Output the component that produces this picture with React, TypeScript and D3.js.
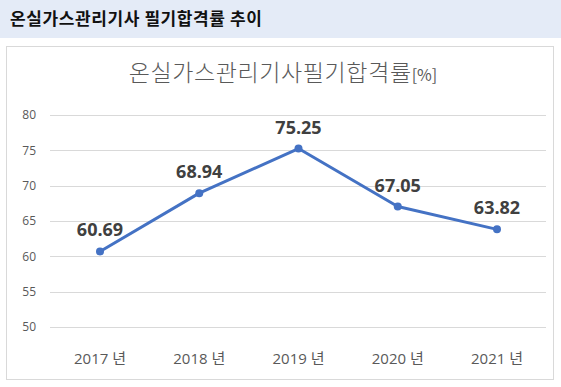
import { useEffect, useRef } from 'react';
import { select, scaleLinear, scalePoint, line } from 'd3';

const years = ['2017 년', '2018 년', '2019 년', '2020 년', '2021 년'];
const passRates = [60.69, 68.94, 75.25, 67.05, 63.82];
const yTicks = [50, 55, 60, 65, 70, 75, 80];

const FONT = '"Noto Sans CJK KR", "Noto Sans", sans-serif';
const LATIN = '"Open Sans", "Noto Sans CJK KR", sans-serif';

export default function App() {
  const svgRef = useRef<SVGSVGElement>(null);

  useEffect(() => {
    if (!svgRef.current) return;
    select(svgRef.current).selectAll('*').remove();

    const width = 561;
    const height = 387;
    const svg = select(svgRef.current).attr('width', width).attr('height', height);

    // Header band
    svg.append('rect').attr('x', 0).attr('y', 0).attr('width', width).attr('height', 38).attr('fill', '#e4ebf7');
    svg.append('text')
      .attr('x', 10).attr('y', 25)
      .attr('font-family', FONT).attr('font-size', 17).attr('font-weight', 700)
      .attr('letter-spacing', 0.6)
      .attr('fill', '#111')
      .text('온실가스관리기사 필기합격률 추이');

    // Chart box
    svg.append('rect')
      .attr('x', 6.5).attr('y', 46.5).attr('width', 547).attr('height', 333)
      .attr('fill', '#fff').attr('stroke', '#d9d9d9').attr('stroke-width', 1);

    // Chart title
    const title = svg.append('text')
      .attr('x', 283).attr('y', 81)
      .attr('text-anchor', 'middle')
      .attr('font-family', FONT).attr('font-weight', 300).attr('fill', '#595959');
    title.append('tspan').attr('font-size', 23).attr('letter-spacing', 0.6).text('온실가스관리기사필기합격률');
    title.append('tspan').attr('font-size', 16).attr('font-weight', 400).attr('fill', '#595959').text('[%]');

    // Scales
    const x = scalePoint<string>().domain(years).range([100, 497]);
    const y = scaleLinear().domain([50, 80]).range([327, 115]);

    // Gridlines & y labels
    yTicks.forEach((t) => {
      svg.append('line')
        .attr('x1', 50).attr('x2', 546)
        .attr('y1', Math.round(y(t)) + 0.5).attr('y2', Math.round(y(t)) + 0.5)
        .attr('stroke', '#d9d9d9').attr('stroke-width', 1);
      svg.append('text')
        .attr('x', 36).attr('y', y(t))
        .attr('dy', '0.35em')
        .attr('text-anchor', 'end')
        .attr('font-family', LATIN).attr('font-size', 12).attr('fill', '#595959')
        .text(t);
    });

    // X labels
    years.forEach((yr) => {
      svg.append('text')
        .attr('x', x(yr)!).attr('y', 364)
        .attr('text-anchor', 'middle')
        .attr('font-family', LATIN).attr('font-size', 15).attr('fill', '#595959')
        .text(yr);
    });

    // Line
    const pts = years.map((yr, i) => ({ yr, v: passRates[i] }));
    const path = line<{ yr: string; v: number }>()
      .x((d) => x(d.yr)!)
      .y((d) => y(d.v));
    svg.append('path')
      .datum(pts)
      .attr('d', path)
      .attr('fill', 'none')
      .attr('stroke', '#4472c4')
      .attr('stroke-width', 3)
      .attr('stroke-linejoin', 'round');

    pts.forEach((d) => {
      svg.append('circle')
        .attr('cx', x(d.yr)!).attr('cy', y(d.v)).attr('r', 4)
        .attr('fill', '#4472c4');
      svg.append('text')
        .attr('x', x(d.yr)!).attr('y', y(d.v) - 15)
        .attr('text-anchor', 'middle')
        .attr('font-family', LATIN).attr('font-size', 18).attr('font-weight', 700)
        .attr('fill', '#404040')
        .text(d.v.toFixed(2));
    });
  }, []);

  return <svg ref={svgRef} style={{ position: 'absolute', left: 0, top: 0 }} />;
}
